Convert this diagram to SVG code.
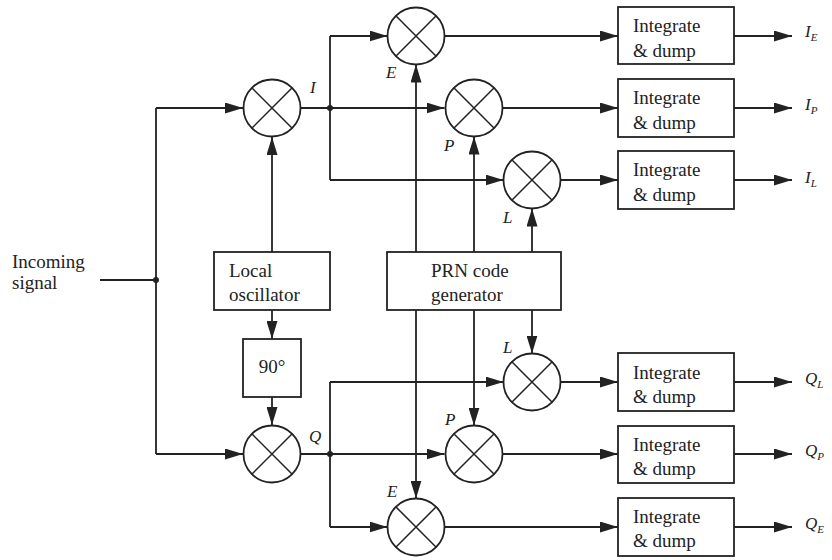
<svg xmlns="http://www.w3.org/2000/svg" width="832" height="560" viewBox="0 0 832 560">
<defs>
<marker id="ah" markerWidth="18" markerHeight="11" refX="18" refY="5.5" orient="auto" markerUnits="userSpaceOnUse">
<path d="M0,0 L18,5.5 L0,11 Z" fill="#222"/>
</marker>
<g id="mx">
<circle cx="0" cy="0" r="28.5" fill="#fff" stroke="#222" stroke-width="1.8"/>
<path d="M-20.2,-20.2 L20.2,20.2 M-20.2,20.2 L20.2,-20.2" stroke="#222" stroke-width="1.5"/>
</g>
</defs>
<style>
.box{fill:#fff;stroke:#222;stroke-width:1.8}
.ln{fill:none;stroke:#222;stroke-width:1.8}
.ar{fill:none;stroke:#222;stroke-width:1.8;marker-end:url(#ah)}
.t{font-family:"Liberation Serif",serif;font-size:19px;fill:#222}
.it{font-family:"Liberation Serif",serif;font-style:italic;font-size:17px;fill:#222}
.sub{font-family:"Liberation Serif",serif;font-style:italic;font-size:11px;fill:#222}
</style>
<rect width="832" height="560" fill="#fff"/>
<g id="connectors">
<path class="ln" d="M100,280 H156 M156,108 V454"/>
<path class="ar" d="M156,108 H243"/>
<path class="ar" d="M156,454 H243"/>
<circle cx="156" cy="280" r="3" fill="#222"/>
<path class="ar" d="M272,252 V137"/>
<path class="ar" d="M272,310 V339"/>
<path class="ar" d="M272,397 V425"/>
<path class="ln" d="M301,108 H330 M330,36 V180"/>
<path class="ar" d="M330,108 H444.5"/>
<path class="ar" d="M330,36 H387.5"/>
<path class="ar" d="M330,180 H503.5"/>
<circle cx="330" cy="108" r="3" fill="#222"/>
<path class="ln" d="M301,454 H330 M330,382 V527"/>
<path class="ar" d="M330,454 H444.5"/>
<path class="ar" d="M330,382 H503.5"/>
<path class="ar" d="M330,527 H387.5"/>
<circle cx="330" cy="454" r="3" fill="#222"/>
<path class="ar" d="M416,252 V64.5"/>
<path class="ar" d="M474,252 V136.5"/>
<path class="ar" d="M532,252 V208.5"/>
<path class="ar" d="M416,310 V498.5"/>
<path class="ar" d="M474,310 V425.5"/>
<path class="ar" d="M532,310 V353.5"/>
<path class="ar" d="M444.5,36 H618"/>
<path class="ar" d="M502.5,108 H618"/>
<path class="ar" d="M560.5,180 H618"/>
<path class="ar" d="M560.5,382 H618"/>
<path class="ar" d="M502.5,454 H618"/>
<path class="ar" d="M444.5,527 H618"/>
<path class="ar" d="M734,36 H792"/>
<path class="ar" d="M734,108 H792"/>
<path class="ar" d="M734,180 H792"/>
<path class="ar" d="M734,382 H792"/>
<path class="ar" d="M734,454 H792"/>
<path class="ar" d="M734,527 H792"/>
</g>
<g id="input"><text class="t" x="12" y="268">Incoming</text><text class="t" x="12" y="289">signal</text></g>
<g id="mixI"><use href="#mx" x="272" y="108"/><text class="it" x="310" y="93">I</text></g>
<g id="mixQ"><use href="#mx" x="272" y="454"/><text class="it" x="309" y="442">Q</text></g>
<g id="lo"><rect class="box" x="214" y="252" width="116" height="58"/><text class="t" x="229" y="277">Local</text><text class="t" x="229" y="301">oscillator</text></g>
<g id="ph"><rect class="box" x="243" y="339" width="58" height="58"/><text class="t" x="272" y="373" text-anchor="middle">90°</text></g>
<g id="prn"><rect class="box" x="387" y="252" width="174" height="58"/><text class="t" x="431" y="277">PRN code</text><text class="t" x="431" y="301">generator</text></g>
<g id="mixIE"><use href="#mx" x="416" y="36"/><text class="it" x="386" y="78">E</text></g>
<g id="mixIP"><use href="#mx" x="474" y="108"/><text class="it" x="444" y="151">P</text></g>
<g id="mixIL"><use href="#mx" x="532" y="180"/><text class="it" x="503" y="223">L</text></g>
<g id="mixQL"><use href="#mx" x="532" y="382"/><text class="it" x="503" y="353">L</text></g>
<g id="mixQP"><use href="#mx" x="474" y="454"/><text class="it" x="445" y="425">P</text></g>
<g id="mixQE"><use href="#mx" x="416" y="527"/><text class="it" x="387" y="497">E</text></g>
<g id="idIE"><rect class="box" x="618" y="7" width="116" height="57"/><text class="t" x="633" y="32">Integrate</text><text class="t" x="633" y="57">&amp; dump</text></g>
<g id="idIP"><rect class="box" x="618" y="79" width="116" height="58"/><text class="t" x="633" y="104">Integrate</text><text class="t" x="633" y="129">&amp; dump</text></g>
<g id="idIL"><rect class="box" x="618" y="151" width="116" height="58"/><text class="t" x="633" y="176">Integrate</text><text class="t" x="633" y="201">&amp; dump</text></g>
<g id="idQL"><rect class="box" x="618" y="353" width="116" height="58"/><text class="t" x="633" y="379">Integrate</text><text class="t" x="633" y="403">&amp; dump</text></g>
<g id="idQP"><rect class="box" x="618" y="426" width="116" height="57"/><text class="t" x="633" y="451">Integrate</text><text class="t" x="633" y="475">&amp; dump</text></g>
<g id="idQE"><rect class="box" x="618" y="498" width="116" height="58"/><text class="t" x="633" y="523">Integrate</text><text class="t" x="633" y="547">&amp; dump</text></g>
<g id="outs">
<text class="it" x="805" y="37" font-size="16">I<tspan class="sub" dy="4">E</tspan></text>
<text class="it" x="805" y="110" font-size="16">I<tspan class="sub" dy="4">P</tspan></text>
<text class="it" x="805" y="183" font-size="16">I<tspan class="sub" dy="4">L</tspan></text>
<text class="it" x="805" y="384" font-size="16">Q<tspan class="sub" dy="4">L</tspan></text>
<text class="it" x="805" y="456" font-size="16">Q<tspan class="sub" dy="4">P</tspan></text>
<text class="it" x="805" y="529" font-size="16">Q<tspan class="sub" dy="4">E</tspan></text>
</g>
</svg>
